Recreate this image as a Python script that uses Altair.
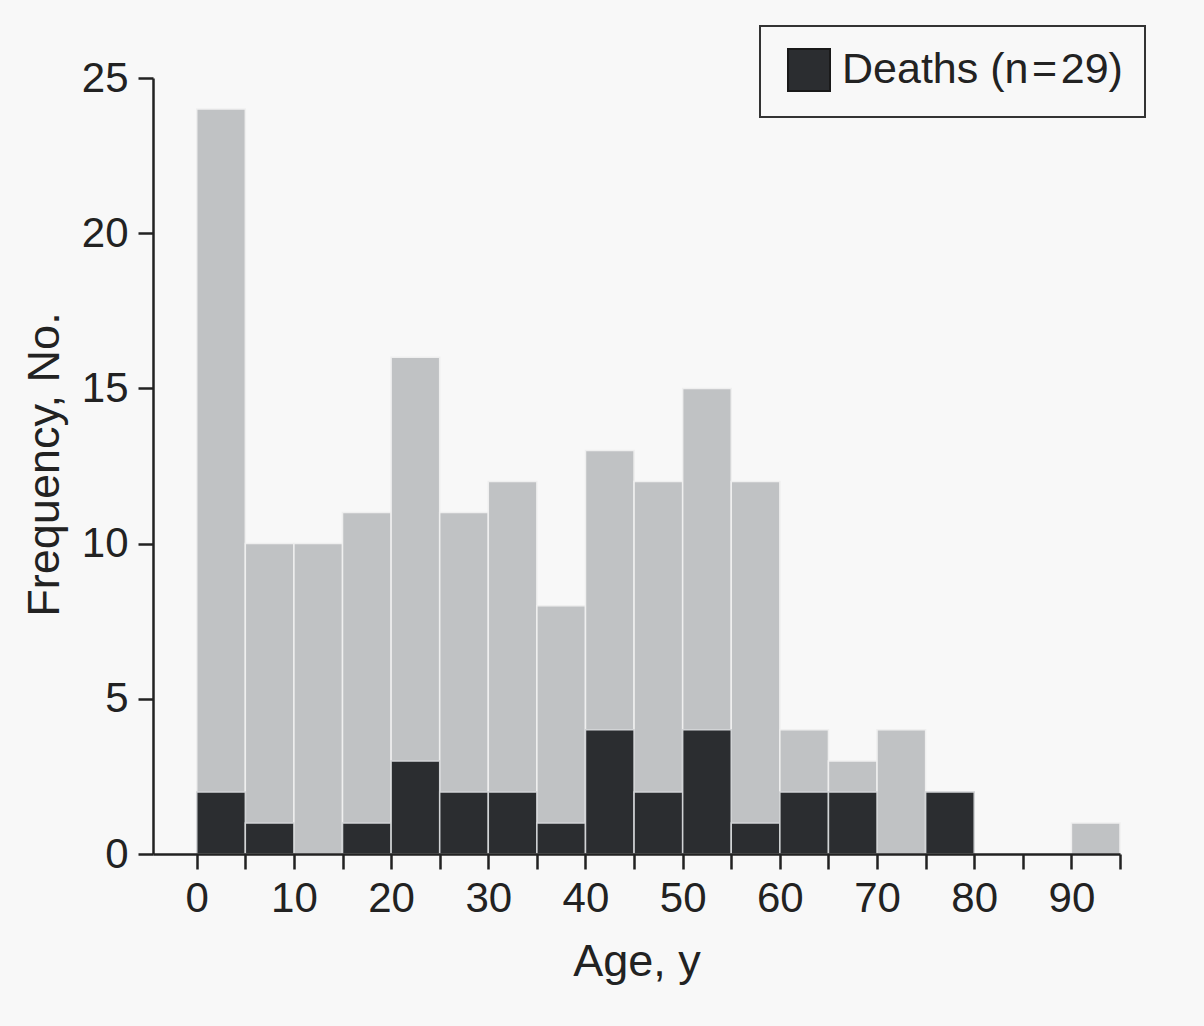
import altair as alt
import pandas as pd

# ---- data ----
bin_start = [0, 5, 10, 15, 20, 25, 30, 35, 40, 45, 50, 55, 60, 65, 70, 75, 80, 85, 90]
bin_width = 5
totals = [24, 10, 10, 11, 16, 11, 12, 8, 13, 12, 15, 12, 4, 3, 4, 2, 0, 0, 1]
deaths = [2, 1, 0, 1, 3, 2, 2, 1, 4, 2, 4, 1, 2, 2, 0, 2, 0, 0, 0]
legend_label = "Deaths (n\u200a=\u200a29)"
x_ticks = list(range(0, 100, 5))
y_ticks = [0, 5, 10, 15, 20, 25]

df = pd.DataFrame({
    "start": bin_start,
    "end": [s + bin_width for s in bin_start],
    "total": totals,
    "deaths": deaths,
    "series": [legend_label] * len(bin_start),
})

FONT = "Liberation Sans"
INK = "#222222"
GRAY = "#c0c2c4"
DARK = "#2b2d30"

x_scale = alt.Scale(domain=[-4.5, 95], nice=False, zero=False)
y_scale = alt.Scale(domain=[0, 25], nice=False)

x_axis = alt.Axis(
    values=x_ticks,
    labelExpr="datum.value % 10 === 0 ? datum.label : ''",
    title="Age, y",
    labelPadding=9,
    labelFlush=False,
    titleY=121,
    titleBaseline="alphabetic",
    zindex=1,
)
y_axis = alt.Axis(
    values=y_ticks,
    title="Frequency, No.",
    labelPadding=10,
    titleX=-95,
    titleY=386,
    titleAngle=270,
    titleAlign="center",
    titleBaseline="alphabetic",
    zindex=1,
)

gray = alt.Chart(df).transform_filter("datum.total > 0").mark_rect(
    color=GRAY, stroke="#efefef", strokeWidth=1.5
).encode(
    x=alt.X("start:Q", scale=x_scale, axis=x_axis),
    x2="end:Q",
    y=alt.Y("total:Q", scale=y_scale, axis=y_axis),
    y2=alt.datum(0),
)

black = alt.Chart(df).transform_filter("datum.deaths > 0").mark_rect(
    stroke="#d2d4d6", strokeWidth=1.5
).encode(
    x=alt.X("start:Q", scale=x_scale),
    x2="end:Q",
    y=alt.Y("deaths:Q", scale=y_scale),
    y2=alt.datum(0),
    color=alt.Color(
        "series:N",
        scale=alt.Scale(domain=[legend_label], range=[DARK]),
        legend=alt.Legend(
            title=None,
            orient="none",
            legendX=607,
            legendY=-52,
            padding=22,
            symbolType="square",
            symbolSize=1764,
            symbolStrokeColor="#1a1a1a",
            symbolStrokeWidth=2,
            symbolOffset=5,
            labelOffset=11,
            labelFontSize=43,
            labelFont=FONT,
            labelColor=INK,
            labelLimit=600,
            strokeColor="#333333",
            fillColor="#f8f8f8",
        ),
    ),
)

chart = alt.layer(gray, black).properties(
    width=967,
    height=776,
    autosize=alt.AutoSizeParams(type="none"),
    padding={"left": 153, "top": 78, "right": 84, "bottom": 172},
    background="#f8f8f8",
).configure_view(
    stroke=None
).configure_axis(
    grid=False,
    domainColor=INK,
    domainWidth=2.5,
    tickColor=INK,
    tickWidth=2.5,
    tickSize=15,
    labelFont=FONT,
    labelFontSize=42,
    labelColor=INK,
    titleFont=FONT,
    titleFontSize=45,
    titleFontWeight="normal",
    titleColor=INK,
).configure_legend(
    strokeWidth=2,
    cornerRadius=0,
)

chart.save("out.html", embed_options={"renderer": "svg", "actions": False})
